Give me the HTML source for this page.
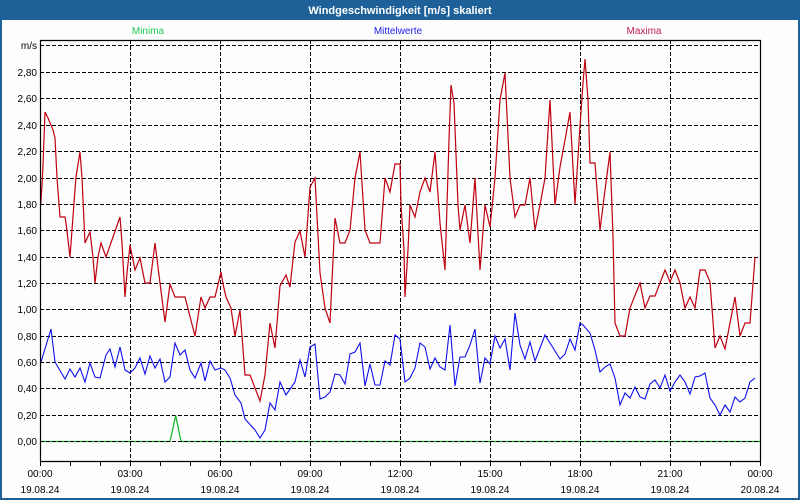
<!DOCTYPE html>
<html><head><meta charset="utf-8"><style>
html,body{margin:0;padding:0;background:#fff;}
svg{display:block;font-family:"Liberation Sans","DejaVu Sans",sans-serif;}
</style></head><body>
<svg width="800" height="500" viewBox="0 0 800 500" xmlns="http://www.w3.org/2000/svg">
<rect x="0" y="0" width="800" height="500" fill="#1e6198"/>
<rect x="2" y="20" width="796" height="478" fill="#fcfdfc"/>
<text x="400" y="14" fill="#fff" font-size="11" font-weight="bold" text-anchor="middle">Windgeschwindigkeit [m/s] skaliert</text>
<text x="148" y="34" fill="#22cc55" font-size="10" text-anchor="middle">Minima</text>
<text x="398" y="34" fill="#2222ee" font-size="10" text-anchor="middle">Mittelwerte</text>
<text x="644" y="34" fill="#c02050" font-size="10" text-anchor="middle">Maxima</text>
<g stroke="#000" stroke-width="1" stroke-dasharray="4 2" fill="none">
<path d="M40 45.5H760M40 72.5H760M40 98.5H760M40 125.5H760M40 151.5H760M40 178.5H760M40 204.5H760M40 230.5H760M40 257.5H760M40 283.5H760M40 309.5H760M40 336.5H760M40 362.5H760M40 388.5H760M40 415.5H760"/>
<path d="M130.5 40V461M220.5 40V461M310.5 40V461M400.5 40V461M490.5 40V461M580.5 40V461M670.5 40V461"/>
</g>
<g font-size="10" fill="#000" text-anchor="end">
<text x="37" y="49">m/s</text>
<text x="37" y="76">2,80</text><text x="37" y="102">2,60</text><text x="37" y="129">2,40</text><text x="37" y="155">2,20</text><text x="37" y="182">2,00</text><text x="37" y="208">1,80</text><text x="37" y="234">1,60</text><text x="37" y="261">1,40</text><text x="37" y="287">1,20</text><text x="37" y="313">1,00</text><text x="37" y="340">0,80</text><text x="37" y="366">0,60</text><text x="37" y="392">0,40</text><text x="37" y="419">0,20</text><text x="37" y="445">0,00</text>
</g>
<polyline fill="none" stroke="#c00010" stroke-width="1.2" points="40.7,205 42,185 43,165 45,112 48,118 53,130 55,138 57,178 60,217 65,217 66,223 70,257 74,203 76,177 80,152 82,178 85,243 90,232 93,257 95,283 98,257 101,243 106,257 120,217 122,243 125,297 127,273 130,245 135,270 140,258 145,283 150,283 155,243 160,283 165,322 170,284 175,297 185,297 195,336 201,297 205,308 210,297 215,297 221,272 223,284 226,297 231,308 235,336 240,310 245,375 250,375 255,388 260,401 265,375 270,323 275,348 280,286 286,275 290,287 295,242 300,231 305,257 310,187 315,178 320,273 325,308 330,323 335,218 340,243 345,243 350,230 355,178 360,152 365,230 370,243 380,243 385,178 390,192 395,164 400,164 401,205 404,250 405,297 408,250 410,205 415,217 420,192 425,178 430,192 435,152 440,223 445,270 449,140 451,85 454,103 458,205 460,230 465,205 470,243 475,178 480,270 485,205 490,227 495,178 500,100 505,73 510,178 515,217 520,205 525,205 530,178 535,230 540,205 545,178 550,100 555,205 560,167 565,140 570,112 575,204 580,126 583,83 585,59 588,100 590,163 595,163 600,230 605,190 610,152 613,237 615,323 620,336 625,336 630,308 640,283 645,308 650,296 655,296 665,270 670,282 675,270 680,283 685,308 690,297 695,308 700,270 705,270 710,282 715,348 720,336 725,349 730,323 735,297 740,336 745,323 750,323 755,257"/>
<polyline fill="none" stroke="#1010ee" stroke-width="1.1" points="41,362 51,329 55,362 65,379 70,369 75,377 80,368 85,382 90,363 95,377 100,378 106,355 110,349 115,367 120,347 125,370 130,373 135,368 140,358 145,374 150,356 155,368 160,359 165,382 170,377 175,343 180,355 185,350 190,370 195,378 201,363 205,381 210,361 215,370 221,368 225,370 230,378 235,395 241,403 245,419 255,430 260,438 265,430 270,403 275,410 280,382 286,395 295,382 300,360 305,377 310,347 315,344 320,399 325,397 330,392 335,374 340,375 345,384 350,354 355,352 360,343 365,386 370,364 375,385 380,385 385,361 390,365 395,335 400,339 405,382 410,378 415,368 420,343 425,347 430,369 435,358 440,367 445,370 450,325 455,386 460,357 465,357 470,345 475,329 480,383 485,358 490,364 495,336 500,348 505,339 510,370 515,313 520,345 525,359 530,342 535,361 545,335 560,359 565,354 570,339 575,350 580,323 583,325 590,333 595,350 600,372 605,367 610,364 615,378 620,405 625,393 630,398 635,387 640,397 645,399 650,384 655,380 660,388 665,375 670,391 675,382 680,375 685,382 690,394 695,377 700,376 705,373 710,398 715,405 720,415 725,405 730,412 735,397 740,402 745,398 750,382 755,378"/>
<polyline fill="none" stroke="#10b020" stroke-width="1.2" points="40,441.5 170,441.5 175.7,415.5 181,441.5 760,441.5"/>
<path d="M40 441.5H760" stroke="#000" stroke-dasharray="4 2" fill="none"/>
<path d="M40.5 40V461.5H760.5V40.5H40" stroke="#000" stroke-width="1.2" fill="none"/>
<path d="M70.5 461V466M100.5 461V466M130.5 461V466M160.5 461V466M190.5 461V466M220.5 461V466M250.5 461V466M280.5 461V466M310.5 461V466M340.5 461V466M370.5 461V466M400.5 461V466M430.5 461V466M460.5 461V466M490.5 461V466M520.5 461V466M550.5 461V466M580.5 461V466M610.5 461V466M640.5 461V466M670.5 461V466M700.5 461V466M730.5 461V466M760.5 461V466M40.5 461V466" stroke="#000" fill="none"/>
<g font-size="10" fill="#000" text-anchor="middle">
<text x="40" y="477">00:00</text><text x="130" y="477">03:00</text><text x="220" y="477">06:00</text><text x="310" y="477">09:00</text><text x="400" y="477">12:00</text><text x="490" y="477">15:00</text><text x="580" y="477">18:00</text><text x="670" y="477">21:00</text><text x="760" y="477">00:00</text>
<text x="40" y="493">19.08.24</text><text x="130" y="493">19.08.24</text><text x="220" y="493">19.08.24</text><text x="310" y="493">19.08.24</text><text x="400" y="493">19.08.24</text><text x="490" y="493">19.08.24</text><text x="580" y="493">19.08.24</text><text x="670" y="493">19.08.24</text><text x="760" y="493">20.08.24</text>
</g>
</svg>
</body></html>
